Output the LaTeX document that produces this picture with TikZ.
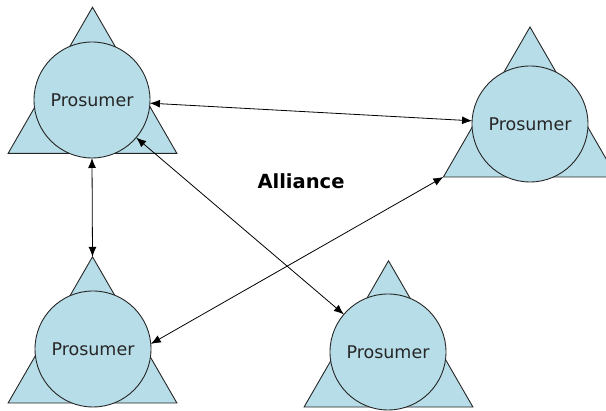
\documentclass[tikz,border=0pt]{standalone}
\usepackage{fontspec}
\setmainfont{DejaVu Sans}
\usetikzlibrary{shapes.geometric,arrows.meta}
\definecolor{prosumerblue}{RGB}{183,221,232}
\begin{document}
\begin{tikzpicture}[x=1pt,y=1pt]
\tikzstyle{tri}=[regular polygon,regular polygon sides=3,draw=black!85,fill=prosumerblue,line width=0.9pt,minimum size=195pt,inner sep=0pt,outer sep=0pt]
\tikzstyle{prosumer}=[circle,draw=black!85,fill=prosumerblue,line width=0.9pt,minimum size=116pt,inner sep=0pt,outer sep=0pt,text=black!85,font=\fontsize{17.5}{20}\selectfont]
\tikzstyle{link}=[line width=0.8pt,{Latex[length=10pt,width=8pt]}-{Latex[length=10pt,width=8pt]}]
\begin{scope}
\clip (0,0) rectangle (606,411);
\useasboundingbox (0,0) rectangle (606,411);

\node[tri] (T1) at (92.5,306.3) {};
\node[tri,minimum size=200pt] (T2) at (530,284) {};
\node[tri] (T3) at (92.5,56.7) {};
\node[tri] (T4) at (388.5,52.7) {};

\node[prosumer] (P1) at (92,311) {Prosumer};
\node[prosumer] (P2) at (530,287) {Prosumer};
\node[prosumer] (P3) at (93,62) {Prosumer};
\node[prosumer] (P4) at (388,59) {Prosumer};

\node[font=\fontsize{19.5}{22}\selectfont\bfseries] (A) at (301,230) {Alliance};

\draw[link] (P1) -- (P2);
\draw[link] (P1.south) -- (T3.corner 1);
\draw[link] (P1) -- (P4);
\draw[link] (P3.5) -- (T2.corner 2);

\end{scope}
\end{tikzpicture}
\end{document}
